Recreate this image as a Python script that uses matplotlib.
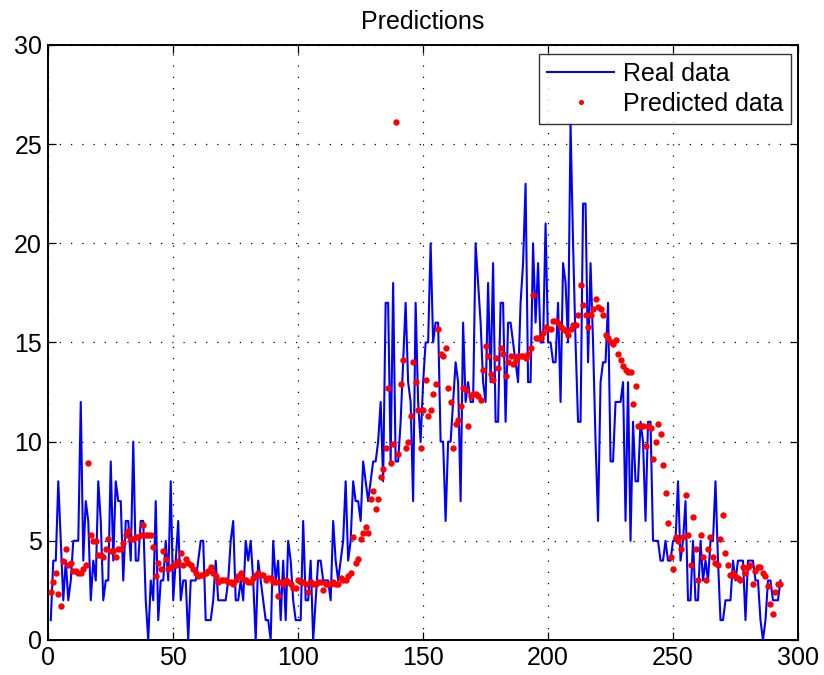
import matplotlib
matplotlib.use('Agg')
import matplotlib.pyplot as plt
import numpy as np

plt.rcParams['font.family'] = ['Liberation Sans', 'DejaVu Sans']

# real data (integer counts), one value per sample index 1..293
real_data = [
    1, 4, 4, 8, 5, 2, 4, 2, 3, 5,
    5, 5, 12, 4, 7, 6, 2, 4, 3, 8,
    6, 2, 3, 3, 9, 4, 8, 7, 7, 3,
    6, 6, 4, 10, 4, 4, 6, 6, 2, 0,
    3, 2, 7, 1, 3, 3, 5, 3, 8, 2,
    4, 6, 2, 3, 3, 0, 3, 3, 3, 4,
    5, 5, 1, 1, 1, 2, 4, 2, 2, 2,
    2, 3, 5, 6, 2, 2, 3, 2, 5, 4,
    5, 3, 0, 4, 3, 2, 1, 1, 0, 5,
    3, 4, 1, 4, 1, 5, 4, 2, 1, 1,
    1, 6, 2, 2, 4, 0, 2, 4, 4, 3,
    3, 3, 2, 6, 4, 3, 4, 5, 8, 4,
    5, 8, 7, 7, 6, 9, 8, 7, 8, 9,
    9, 10, 12, 8, 17, 17, 9, 18, 9, 9,
    11, 14, 17, 13, 12, 7, 17, 12, 10, 13,
    15, 15, 20, 15, 16, 16, 10, 10, 6, 10,
    10, 12, 14, 13, 7, 16, 12, 13, 12, 12,
    20, 18, 16, 13, 12, 18, 13, 19, 11, 11,
    17, 17, 11, 16, 16, 15, 14, 13, 17, 19,
    23, 13, 13, 20, 16, 19, 15, 15, 21, 15,
    15, 14, 14, 17, 12, 19, 18, 15, 26, 20,
    15, 11, 11, 22, 22, 14, 19, 15, 10, 6,
    13, 14, 14, 17, 9, 9, 12, 12, 12, 13,
    6, 13, 5, 11, 8, 8, 11, 10, 6, 11,
    11, 5, 5, 5, 4, 4, 5, 4, 4, 5,
    5, 8, 4, 5, 7, 2, 2, 5, 2, 2,
    5, 3, 4, 3, 5, 5, 8, 4, 1, 1,
    2, 2, 2, 4, 3, 4, 4, 4, 1, 4,
    4, 4, 3, 3, 1, 0, 1, 3, 3, 2,
    2, 2, 3,
]

# model output for the same indices
predicted_data = [
    2.4, 2.9, 3.4, 2.3, 1.7, 4.0, 4.6, 3.8, 3.9, 3.5,
    3.5, 3.4, 3.4, 3.6, 3.8, 8.9, 5.3, 5.0, 5.0, 4.3,
    4.3, 4.2, 4.6, 5.1, 4.5, 4.5, 4.2, 4.6, 4.6, 4.9,
    5.3, 5.5, 5.1, 5.1, 5.2, 5.2, 5.3, 5.8, 5.3, 5.3,
    5.3, 4.7, 3.2, 3.9, 3.6, 4.5, 4.1, 3.6, 3.7, 3.8,
    3.8, 4.0, 4.4, 3.8, 4.1, 3.9, 3.8, 3.6, 3.4, 3.2,
    3.3, 3.3, 3.4, 3.5, 3.7, 3.4, 3.2, 2.9, 3.0, 3.0,
    3.0, 2.9, 2.9, 2.8, 3.0, 3.2, 3.4, 3.05, 3.0, 2.9,
    2.9, 3.1, 3.3, 3.4, 3.3, 3.3, 3.0, 3.1, 3.1, 2.9,
    2.9, 2.2, 2.9, 2.8, 3.0, 2.9, 2.8, 2.6, 2.6, 3.0,
    2.9, 2.9, 2.8, 2.4, 2.9, 2.8, 2.8, 2.9, 2.9, 2.5,
    2.8, 2.8, 2.8, 2.9, 2.8, 2.8, 3.1, 3.0, 3.0, 3.2,
    3.4, 5.2, 3.9, 4.1, 5.1, 5.4, 5.7, 5.4, 7.1, 7.5,
    6.6, 7.1, 8.2, 8.6, 9.7, 12.7, 8.9, 9.9, 26.1, 9.4,
    12.9, 14.1, 9.7, 10.0, 11.3, 14.0, 13.0, 11.6, 9.7, 11.6,
    13.1, 11.3, 11.6, 12.4, 12.9, 15.7, 14.4, 14.3, 14.7, 12.7,
    12.0, 9.7, 10.9, 11.1, 11.8, 12.7, 12.6, 10.8, 12.3, 12.4,
    12.4, 12.3, 12.1, 13.6, 14.8, 14.3, 13.4, 13.1, 14.2, 13.7,
    14.7, 14.4, 13.3, 14.0, 14.3, 13.9, 14.1, 14.3, 14.3, 14.3,
    14.2, 14.4, 14.7, 17.4, 15.2, 15.2, 15.2, 15.5, 15.8, 15.7,
    15.7, 16.1, 16.1, 16.0, 15.8, 15.7, 15.6, 15.4, 15.7, 15.9,
    15.9, 16.4, 17.9, 16.9, 16.4, 15.8, 16.4, 16.7, 17.2, 16.8,
    16.7, 16.4, 15.4, 15.2, 15.0, 14.9, 15.1, 14.4, 14.1, 13.8,
    13.6, 13.5, 13.5, 11.9, 12.8, 10.8, 10.8, 10.8, 9.8, 10.8,
    10.7, 9.1, 10.0, 10.9, 10.4, 8.8, 7.4, 5.9, 4.2, 3.6,
    5.2, 5.0, 4.6, 5.2, 7.3, 5.3, 3.8, 6.2, 4.6, 3.0,
    5.3, 4.2, 3.0, 4.6, 5.2, 4.2, 3.9, 3.8, 5.1, 6.3,
    4.4, 3.8, 3.3, 3.4, 3.2, 3.1, 3.0, 3.7, 3.4, 3.7,
    3.8, 2.8, 3.5, 3.7, 3.7, 3.4, 3.2, 2.7, 1.8, 1.3,
    2.4, 2.8, 2.8,
]

x_ticks = [0, 50, 100, 150, 200, 250, 300]
y_ticks = [0, 5, 10, 15, 20, 25, 30]

idx = np.arange(1, len(real_data) + 1)
idx_pred = np.arange(1, len(predicted_data) + 1)

fig = plt.figure(figsize=(8.24, 6.75), dpi=100)
ax = fig.add_axes([0.0586, 0.0519, 0.9098, 0.8815])

ax.plot(idx, real_data, color='#0000ff', lw=1.5, label='Real data', zorder=3)
ax.plot(idx_pred, predicted_data, linestyle='none', marker='o', ms=4.6,
        mfc='#ff0000', mec='none', label='Predicted data', zorder=4)

ax.set_xlim(0, 300)
ax.set_ylim(0, 30)
ax.set_xticks(x_ticks)
ax.set_yticks(y_ticks)
ax.tick_params(direction='in', length=6, width=0.9, labelsize=18,
               top=True, right=True)
ax.tick_params(axis='x', pad=4)
ax.tick_params(axis='y', pad=4.5)
for s in ax.spines.values():
    s.set_linewidth(1.4)

ax.grid(True, color='black', linestyle=(0, (1, 8)), lw=0.9)
ax.set_axisbelow(True)

ax.set_title('Predictions', fontsize=18, pad=11.5)

leg = ax.legend(loc='upper right', bbox_to_anchor=(0.991, 0.984),
                borderaxespad=0, fontsize=18, frameon=True, fancybox=False,
                handlelength=2.7, handletextpad=0.35, borderpad=0.3,
                labelspacing=0.25, markerscale=0.8)
leg.get_frame().set_edgecolor('black')
leg.get_frame().set_linewidth(1.0)

fig.savefig('out.png', dpi=100)
